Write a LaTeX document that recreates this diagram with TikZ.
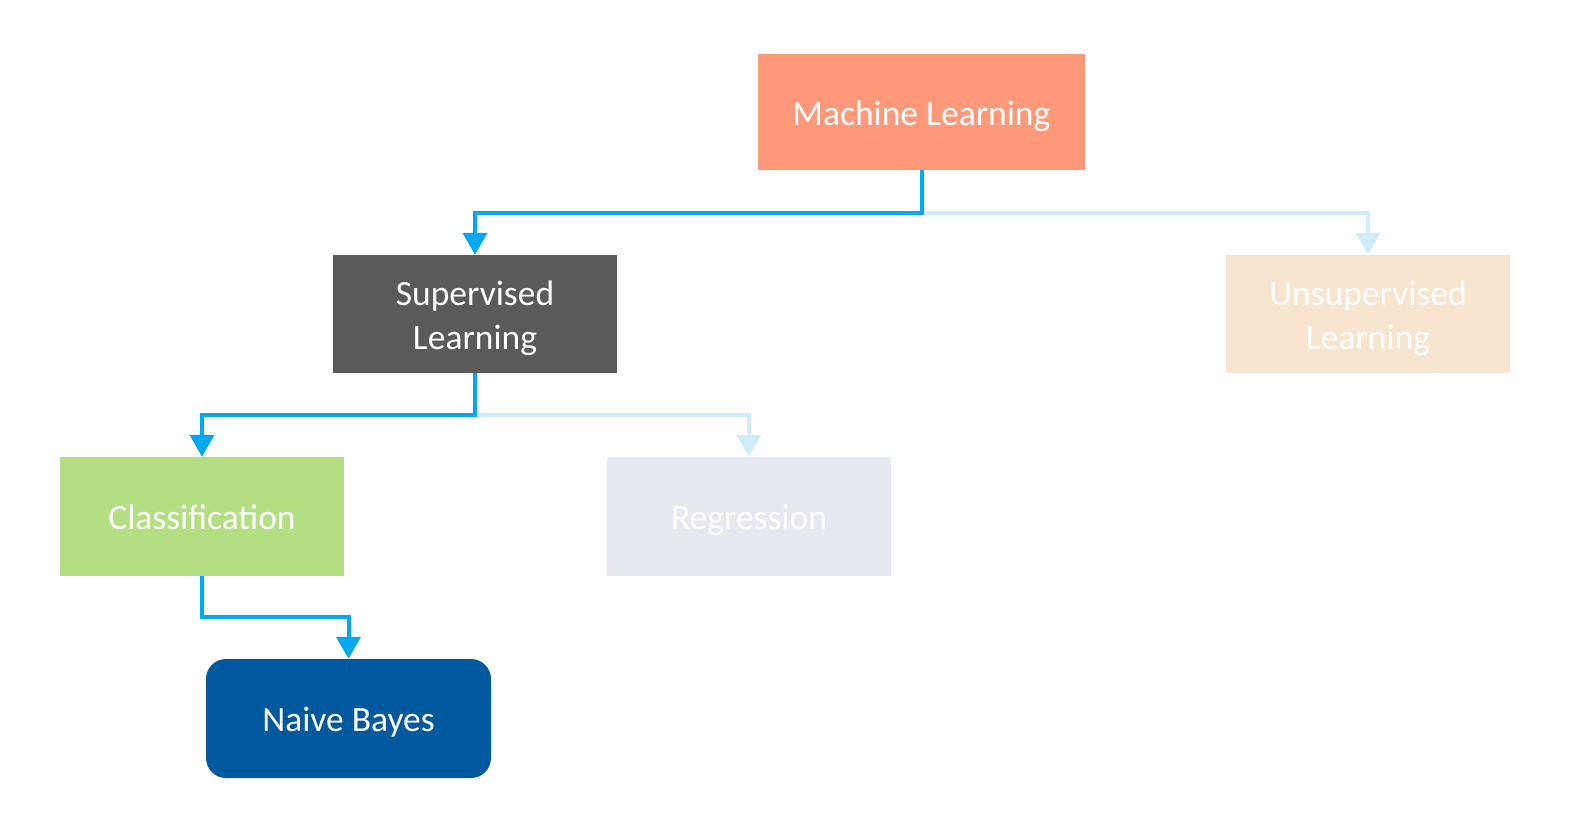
\documentclass[tikz,border=0pt]{standalone}
\usepackage{fontspec}
\setmainfont{Carlito}
\usetikzlibrary{arrows.meta}
\definecolor{mlorange}{RGB}{255,153,122}
\definecolor{supgray}{RGB}{90,90,92}
\definecolor{unsupbeige}{RGB}{248,229,208}
\definecolor{classgreen}{RGB}{179,222,129}
\definecolor{reggray}{RGB}{230,233,242}
\definecolor{nbblue}{RGB}{0,88,158}
\definecolor{connblue}{RGB}{0,168,240}
\definecolor{connlight}{RGB}{208,236,250}
\tikzset{
  box/.style={draw=none, inner sep=0pt,
    minimum width=284pt, minimum height=118pt},
  boxtext/.style={text=white, align=center, inner sep=0pt, yshift=-4pt,
    font=\fontsize{35.5}{44}\selectfont},
  txt/.style={label={[boxtext]center:#1}},
  conn/.style={line width=4pt, draw=connblue,
    -{Triangle[width=24pt,length=22pt]}},
  connfaint/.style={conn, draw=connlight},
}
\begin{document}
\begin{tikzpicture}[x=1pt,y=-1pt]
\useasboundingbox (0,0) rectangle (1586,816);
\node[box, fill=mlorange, minimum width=327pt, minimum height=116pt, txt={Machine Learning}] (ml) at (921.5,112) {};
\node[box, fill=supgray, txt={Supervised\\Learning}] (sup) at (475,314) {};
\node[box, fill=unsupbeige, txt={Unsupervised\\Learning}] (unsup) at (1368,314) {};
\node[box, fill=classgreen, minimum height=119pt, label={[boxtext, yshift=3pt]center:Classification}] (cls) at (202,516.5) {};
\node[box, fill=reggray, minimum height=119pt, txt={Regression}] (reg) at (749,516.5) {};
\node[box, fill=nbblue, minimum width=285pt, minimum height=119pt, rounded corners=20pt, txt={Naive Bayes}] (nb) at (348.5,718.5) {};
\draw[connfaint] (ml.south) -- ++(0,43) -| (unsup.north);
\draw[conn] (ml.south) -- ++(0,43) -| (sup.north);
\draw[connfaint] (sup.south) -- ++(0,42) -| (reg.north);
\draw[conn] (sup.south) -- ++(0,42) -| (cls.north);
\draw[conn] (cls.south) -- ++(0,41) -| (nb.north);
\end{tikzpicture}
\end{document}
